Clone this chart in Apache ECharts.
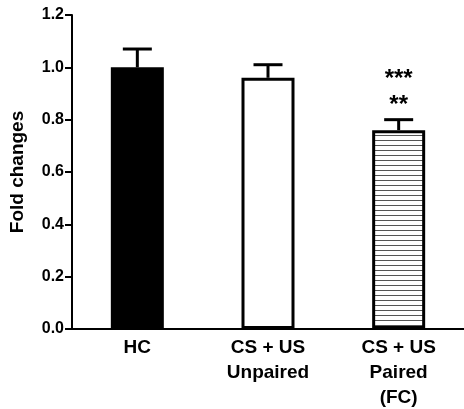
<!DOCTYPE html>
<html><head><meta charset="utf-8">
<script src="https://cdn.jsdelivr.net/npm/echarts@6/dist/echarts.min.js"></script>
<style>html,body{margin:0;padding:0;background:#fff}#c{width:464px;height:409px}</style>
</head><body><div id="c"></div>
<script>
const categories = ['HC', 'CS + US\nUnpaired', 'CS + US\nPaired\n(FC)'];
const means = [1.00, 0.96, 0.76];
const errors = [0.07, 0.05, 0.04];
const stars = ['', '', '**'];
const stars2 = ['', '', '***'];
const yTicks = [0, 0.2, 0.4, 0.6, 0.8, 1.0, 1.2];

const hatch = document.createElement('canvas');
hatch.width = 8; hatch.height = 5;
const hc = hatch.getContext('2d');
hc.fillStyle = '#fff'; hc.fillRect(0, 0, 8, 5);
hc.fillStyle = '#555'; hc.fillRect(0, 0, 8, 1);

const fills = ['#000', '#fff', {image: hatch, repeat: 'repeat'}];
const FONT = '"Liberation Sans", Arial, sans-serif';

const chart = echarts.init(document.getElementById('c'));
chart.setOption({
  animation: false,
  grid: {left: 72, right: 0, top: 15, bottom: 80, containLabel: false, outerBoundsMode: 'none'},
  xAxis: {
    type: 'category', data: categories,
    axisLine: {lineStyle: {color: '#000', width: 2}},
    axisTick: {show: false},
    axisLabel: {color: '#000', fontFamily: FONT, fontWeight: 'bold', fontSize: 19, lineHeight: 25, margin: 6, interval: 0}
  },
  yAxis: {
    type: 'value', min: 0, max: 1.2, interval: 0.2,
    name: 'Fold changes', nameLocation: 'middle', nameGap: 45,
    nameTextStyle: {color: '#000', fontFamily: FONT, fontWeight: 'bold', fontSize: 19},
    axisLine: {show: true, lineStyle: {color: '#000', width: 2}},
    axisTick: {show: true, length: 7, lineStyle: {color: '#000', width: 2}},
    splitLine: {show: false},
    axisLabel: {color: '#000', fontFamily: FONT, fontWeight: 'bold', fontSize: 16, margin: 8,
      formatter: v => v.toFixed(1)}
  },
  series: [
    {
      type: 'bar', barWidth: 53,
      data: means.map((v, i) => ({value: v, itemStyle: {color: fills[i], borderColor: '#000', borderWidth: 3}}))
    },
    {
      type: 'custom',
      data: means.map((v, i) => [i, v, errors[i]]),
      z: 1,
      renderItem: function (params, api) {
        const i = api.value(0), m = api.value(1), e = api.value(2);
        const top = api.coord([i, m]);
        const up = api.coord([i, m + e]);
        const half = 14.5;
        const children = [
          {type: 'line', shape: {x1: top[0], y1: top[1], x2: up[0], y2: up[1]}, style: {stroke: '#000', lineWidth: 3}},
          {type: 'line', shape: {x1: up[0] - half, y1: up[1], x2: up[0] + half, y2: up[1]}, style: {stroke: '#000', lineWidth: 3}}
        ];
        if (stars[i]) {
          children.push({type: 'text', style: {text: stars[i], x: up[0], y: up[1] - 14, align: 'center', verticalAlign: 'middle', font: 'bold 24px ' + FONT, fill: '#000'}});
        }
        if (stars2[i]) {
          children.push({type: 'text', style: {text: stars2[i], x: up[0], y: up[1] - 40, align: 'center', verticalAlign: 'middle', font: 'bold 24px ' + FONT, fill: '#000'}});
        }
        return {type: 'group', children};
      }
    }
  ]
});
</script>
</body></html>
